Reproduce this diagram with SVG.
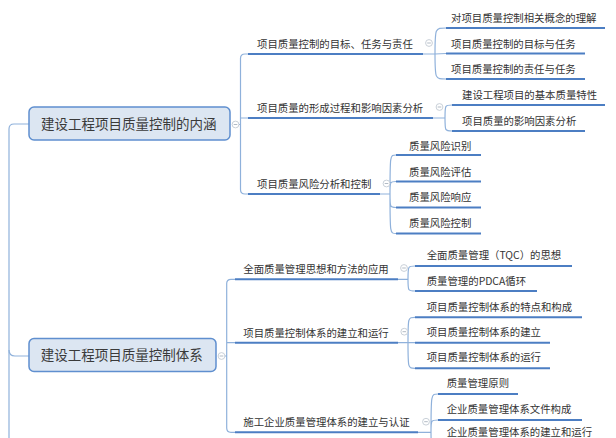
<svg xmlns="http://www.w3.org/2000/svg" xmlns:xlink="http://www.w3.org/1999/xlink" width="616" height="438" viewBox="0 0 616 438">
<style>
text{font-family:"Noto Sans CJK SC","Noto Sans",sans-serif;fill:#333;}
.t2{font-size:10.4px;}
.t1{font-size:13.5px;fill:#3a3a3a;}
.box{fill:#dce6f2;stroke:#5f8fcf;stroke-width:1.5;}
.ul{stroke:#4c7ec3;stroke-width:2;fill:none;}
.cn{stroke:#8fb1db;stroke-width:1.2;fill:none;}
.cc{fill:#fff;stroke:#c3cbd4;stroke-width:0.9;}
.cm{stroke:#a9b3be;stroke-width:0.9;}
</style>
<defs>
<g id="col"><circle class="cc" cx="0" cy="0" r="3.4"/><line class="cm" x1="-1.8" y1="0" x2="1.8" y2="0"/></g>
</defs>
<rect width="616" height="438" fill="#fff"/>
<g id="connectors">
<path class="cn" d="M29 124 L14 124 Q9 124 9 129 L9 440"/>
<path class="cn" d="M9 350 Q9 356 15 356 L29 356"/>
<path class="cn" d="M239 124.5 L240.5 124.5 M248 54 L245 54 Q240.5 54 240.5 58.5 L240.5 189.5 Q240.5 194 245 194 L248 194 M240.5 118 L248 118"/>
<path class="cn" d="M423 54 L435 54 M435 54 C435 28 435 28 446 28 M435 54 L446 53.5 M435 54 C435 79 435 79 446 79"/>
<path class="cn" d="M433 118 L445 118 M445 118 C445 105 445 105 452 105 M445 118 C445 131 445 131 452 131"/>
<path class="cn" d="M380 194 L390 194 M390 194 C390 155 390 155 396 155 M390 194 C390 181.5 390 181.5 396 181.5 M390 194 C390 207.5 390 207.5 396 207.5 M390 194 C390 233.5 390 233.5 396 233.5"/>
<path class="cn" d="M225 356 L226.7 356 M235 279.3 L231 279.3 Q226.7 279.3 226.7 283.5 L226.7 428 Q226.7 432.3 231 432.3 L235 432.3 M226.7 342.7 L235 342.7"/>
<path class="cn" d="M398 279.3 L408 279.3 M408 279.3 C408 266 408 266 415 266 M408 279.3 C408 291 408 291 415 291"/>
<path class="cn" d="M398 342.7 L408 342.7 M408 342.7 C408 317.3 408 317.3 415 317.3 M408 342.7 L415 342.7 M408 342.7 C408 368.3 408 368.3 415 368.3"/>
<path class="cn" d="M418 432.3 L431 432.3 M431 432.3 C431 394 431 394 438 394 M431 432.3 C431 420 431 420 438 420 M431 432.3 C431 446 431 446 438 446"/>
</g>
<g id="main1">
<rect class="box" x="29" y="107" width="201" height="33" rx="5"/>
<text class="t1" x="41" y="128.6">建设工程项目质量控制的内涵</text>
<use xlink:href="#col" x="235.5" y="124.5"/>
</g>
<g id="a1">
<path class="ul" d="M248 54 H423"/>
<text class="t2" x="257" y="48">项目质量控制的目标、任务与责任</text>
<use xlink:href="#col" x="429" y="43"/>
</g>
<g id="a1c1"><path class="ul" d="M446 28 H605"/><text class="t2" x="451" y="22.3">对项目质量控制相关概念的理解</text></g>
<g id="a1c2"><path class="ul" d="M446 53.5 H585"/><text class="t2" x="451" y="47.5">项目质量控制的目标与任务</text></g>
<g id="a1c3"><path class="ul" d="M446 79 H585"/><text class="t2" x="451" y="73.3">项目质量控制的责任与任务</text></g>
<g id="a2">
<path class="ul" d="M248 118 H433"/>
<text class="t2" x="257" y="112">项目质量的形成过程和影响因素分析</text>
<use xlink:href="#col" x="439.5" y="107"/>
</g>
<g id="a2c1"><path class="ul" d="M452 105 H605"/><text class="t2" x="462" y="99">建设工程项目的基本质量特性</text></g>
<g id="a2c2"><path class="ul" d="M452 131 H585"/><text class="t2" x="462" y="124.5">项目质量的影响因素分析</text></g>
<g id="a3">
<path class="ul" d="M248 194 H380"/>
<text class="t2" x="257" y="188">项目质量风险分析和控制</text>
<use xlink:href="#col" x="386.5" y="183.5"/>
</g>
<g id="a3c1"><path class="ul" d="M396 155 H481"/><text class="t2" x="409" y="150">质量风险识别</text></g>
<g id="a3c2"><path class="ul" d="M396 181.5 H481"/><text class="t2" x="409" y="175.5">质量风险评估</text></g>
<g id="a3c3"><path class="ul" d="M396 207.5 H481"/><text class="t2" x="409" y="201">质量风险响应</text></g>
<g id="a3c4"><path class="ul" d="M396 233.5 H481"/><text class="t2" x="409" y="226.5">质量风险控制</text></g>
<g id="main2">
<rect class="box" x="29" y="338.5" width="187" height="33" rx="5"/>
<text class="t1" x="40.7" y="360.2">建设工程项目质量控制体系</text>
<use xlink:href="#col" x="221.5" y="356"/>
</g>
<g id="b1">
<path class="ul" d="M235 279.3 H398"/>
<text class="t2" x="243.3" y="273.3">全面质量管理思想和方法的应用</text>
<use xlink:href="#col" x="404" y="268"/>
</g>
<g id="b1c1"><path class="ul" d="M415 266 H572"/><text class="t2" x="426.7" y="259">全面质量管理（TQC）的思想</text></g>
<g id="b1c2"><path class="ul" d="M415 291 H537"/><text class="t2" x="426.7" y="285">质量管理的PDCA循环</text></g>
<g id="b2">
<path class="ul" d="M235 342.7 H398"/>
<text class="t2" x="243.3" y="336.7">项目质量控制体系的建立和运行</text>
<use xlink:href="#col" x="404.3" y="331.7"/>
</g>
<g id="b2c1"><path class="ul" d="M415 317.3 H582"/><text class="t2" x="426.7" y="310.7">项目质量控制体系的特点和构成</text></g>
<g id="b2c2"><path class="ul" d="M415 342.7 H550"/><text class="t2" x="426.7" y="336.3">项目质量控制体系的建立</text></g>
<g id="b2c3"><path class="ul" d="M415 368.3 H550"/><text class="t2" x="426.7" y="361.3">项目质量控制体系的运行</text></g>
<g id="b3">
<path class="ul" d="M235 432.3 H418"/>
<text class="t2" x="243.3" y="425.7">施工企业质量管理体系的建立与认证</text>
<use xlink:href="#col" x="426" y="421.7"/>
</g>
<g id="b3c1"><path class="ul" d="M438 394 H518"/><text class="t2" x="446.7" y="387.3">质量管理原则</text></g>
<g id="b3c2"><path class="ul" d="M438 420 H582"/><text class="t2" x="446.7" y="413.3">企业质量管理体系文件构成</text></g>
<g id="b3c3"><path class="ul" d="M438 446 H590"/><text class="t2" x="446.7" y="436.3">企业质量管理体系的建立和运行</text></g>
</svg>
